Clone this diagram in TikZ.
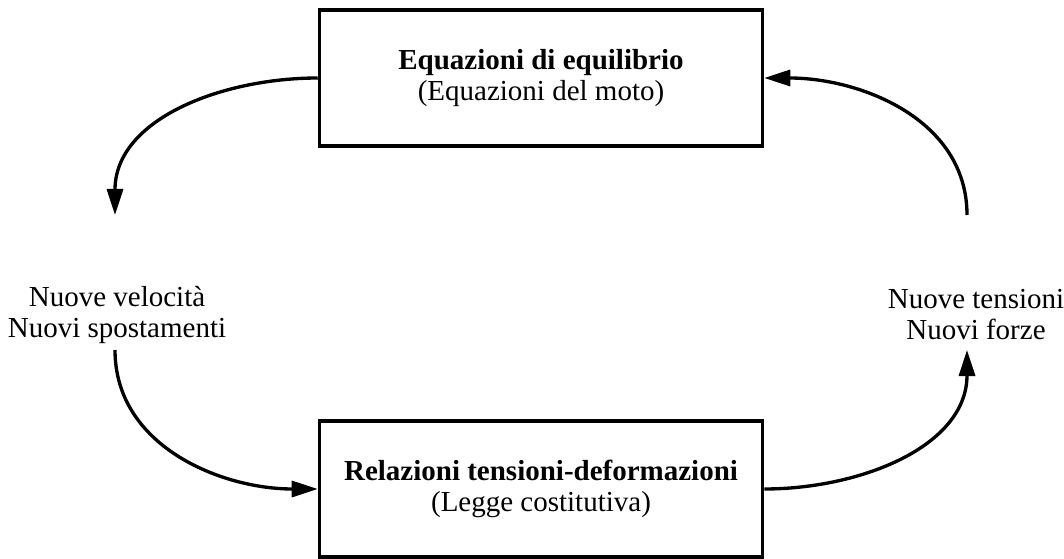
\documentclass[tikz,border=0pt]{standalone}
\usepackage{fontspec}
\setmainfont{Liberation Serif}
\usetikzlibrary{positioning,arrows.meta}
\tikzset{
  box/.style={draw, line width=2pt, minimum width=8.86cm, minimum height=2.72cm, align=center, font=\fontsize{16.5}{17.6}\selectfont},
  lbl/.style={align=center, font=\fontsize{16.5}{17.6}\selectfont},
  arr/.style={-{Triangle[length=5.2mm, width=3.2mm]}, line width=1.9pt},
}

\begin{document}
\begin{tikzpicture}
\useasboundingbox (0,0) rectangle (21.28,-11.18);
\node[box] (eq) at (10.82,-1.56) {\textbf{Equazioni di equilibrio}\\(Equazioni del moto)};
\node[box] (rel) at (10.82,-9.78) {\textbf{Relazioni tensioni-deformazioni}\\(Legge costitutiva)};
\node[lbl] (vel) at (2.34,-6.3) {Nuove velocità\\Nuovi spostamenti};
\node[lbl] (ten) at (19.52,-6.3) {Nuove tensioni\\Nuovi forze};
% loose ends above and below the side labels
\coordinate (v1) at (2.30,-4.30);
\coordinate (v2) at (2.30,-7.00);
\coordinate (t1) at (19.34,-4.30);
\coordinate (t2) at (19.34,-7.00);
\draw[arr] (eq.west) to[out=180,in=90] (v1);
\draw[arr] (v2) to[out=-90,in=180] (rel.west);
\draw[arr] (rel.east) to[out=0,in=-90] (t2);
\draw[arr] (t1) to[out=90,in=0] (eq.east);
\end{tikzpicture}
\end{document}
